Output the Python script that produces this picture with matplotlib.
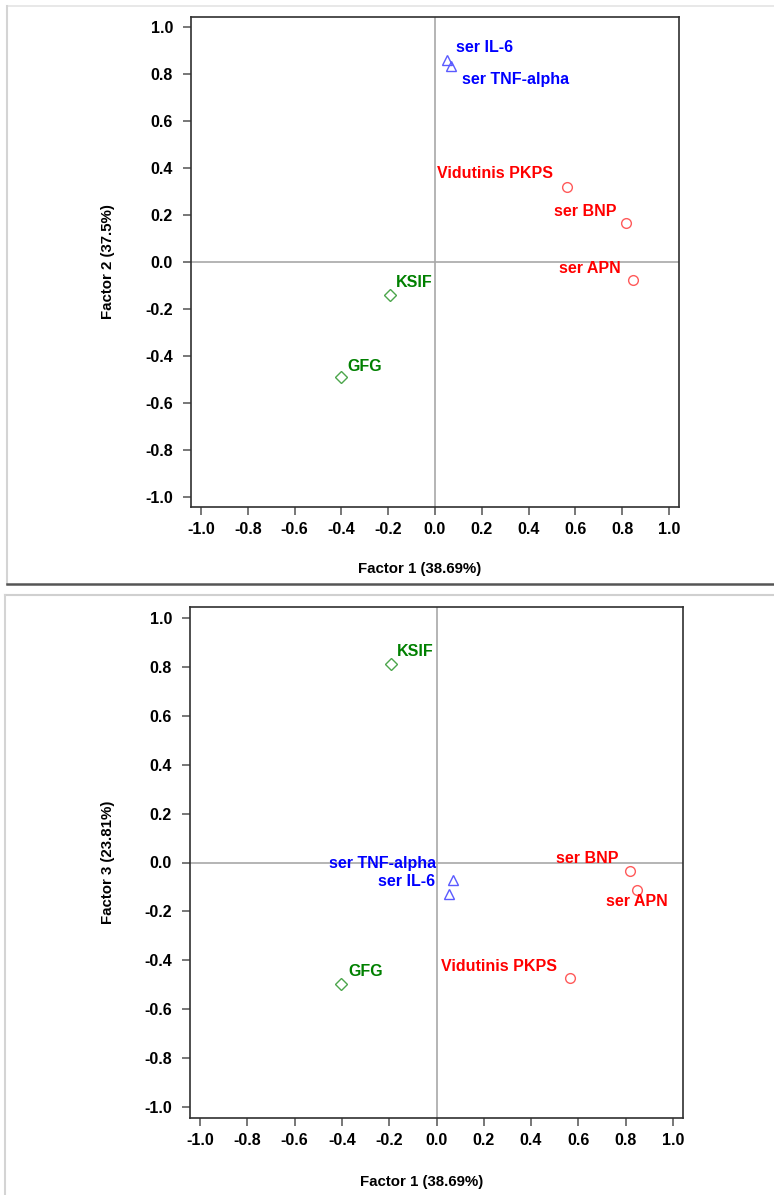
import matplotlib
matplotlib.use('Agg')
import matplotlib.pyplot as plt
from matplotlib.lines import Line2D

plt.rcParams['font.family'] = ['Liberation Sans', 'DejaVu Sans']

# data ready.
names = ['ser IL-6', 'ser TNF-alpha', 'Vidutinis PKPS', 'ser BNP', 'ser APN', 'KSIF', 'GFG']
group = ['blue', 'blue', 'red', 'red', 'red', 'green', 'green']
factor1 = [0.051, 0.068, 0.565, 0.817, 0.847, -0.193, -0.403]
factor2 = [0.860, 0.834, 0.320, 0.166, -0.077, -0.140, -0.490]
factor3 = [-0.130, -0.071, -0.472, -0.035, -0.113, 0.810, -0.495]
ticks = [-1.0, -0.8, -0.6, -0.4, -0.2, 0.0, 0.2, 0.4, 0.6, 0.8, 1.0]
xlab = 'Factor 1 (38.69%)'
ylab2 = 'Factor 2 (37.5%)'
ylab3 = 'Factor 3 (23.81%)'

# looks per group: marker, marker colour, text colour
look = {'blue': ('^', '#5a5aff', '#0000ff'),
        'red': ('o', '#ff5a5a', '#ff0000'),
        'green': ('D', '#4ca64c', '#008000')}

# label offsets in pixels (dx, dy, ha)
off_top = [(9, 12, 'left'), (11, -13, 'left'), (-14, 13, 'right'), (-10, 12, 'right'),
           (-12, 12, 'right'), (6, 12, 'left'), (7, 11, 'left')]
off_bot = [(-13, 13, 'right'), (-16, 16, 'right'), (-13, 12, 'right'), (-11, 13, 'right'),
           (0, -11, 'center'), (6, 13, 'left'), (7, 12, 'left')]

W, H = 774, 1195
fig = plt.figure(figsize=(W / 100, H / 100), dpi=100)


def panel(rect, fy, ylab, offs, xlab_y, ylab_x):
    ax = fig.add_axes(rect)
    ax.set_xlim(-1.043, 1.043)
    ax.set_ylim(-1.043, 1.043)
    ax.axhline(0, color='#a8a8a8', lw=1.2, zorder=1)
    ax.axvline(0, color='#a8a8a8', lw=1.2, zorder=1)
    for i, n in enumerate(names):
        m, mc, tc = look[group[i]]
        ms = 6 if m == 'D' else 7
        ax.plot(factor1[i], fy[i], marker=m, ms=ms, mfc='none', mec=mc, mew=1.0,
                ls='none', zorder=3)
        dx, dy, ha = offs[i]
        ax.annotate(n, (factor1[i], fy[i]), xytext=(dx, dy), textcoords='offset pixels',
                    ha=ha, va='center', color=tc, fontsize=11.5, fontweight='bold')
    ax.set_xticks(ticks)
    ax.set_yticks(ticks)
    ax.set_xticklabels(['%.1f' % t for t in ticks], fontsize=11.5, fontweight='bold')
    ax.set_yticklabels(['%.1f' % t for t in ticks], fontsize=11.5, fontweight='bold')
    ax.tick_params(axis='both', direction='out', length=6, width=1.2, color='#606060')
    ax.tick_params(axis='x', pad=5)
    ax.tick_params(axis='y', pad=7)
    for s in ax.spines.values():
        s.set_color('#303030')
        s.set_linewidth(1.2)
    ax.set_xlabel(xlab, fontsize=10.8, fontweight='bold')
    ax.set_ylabel(ylab, fontsize=10.8, fontweight='bold')
    ax.xaxis.set_label_coords(0.469, xlab_y)
    ax.yaxis.set_label_coords(ylab_x, 0.5)
    return ax


panel([191 / W, 1 - 507 / H, 488 / W, 490 / H], factor2, ylab2, off_top, -0.112, -0.156)
panel([190 / W, 1 - 1118 / H, 493 / W, 511 / H], factor3, ylab3, off_bot, -0.112, -0.152)

# panel frames
def fline(x, y, c, lw):
    fig.add_artist(Line2D([v / W for v in x], [1 - v / H for v in y],
                          color=c, lw=lw, transform=fig.transFigure))

fline([7, 774], [6, 6], '#e4e4e4', 1.2)
fline([7, 7], [6, 584], '#d4d4d4', 1.5)
fline([7, 774], [584, 584], '#555555', 1.8)
fline([5, 774], [595, 595], '#d0d0d0', 1.5)
fline([5, 5], [595, 1195], '#d4d4d4', 1.5)

fig.savefig('out.png', dpi=100)
